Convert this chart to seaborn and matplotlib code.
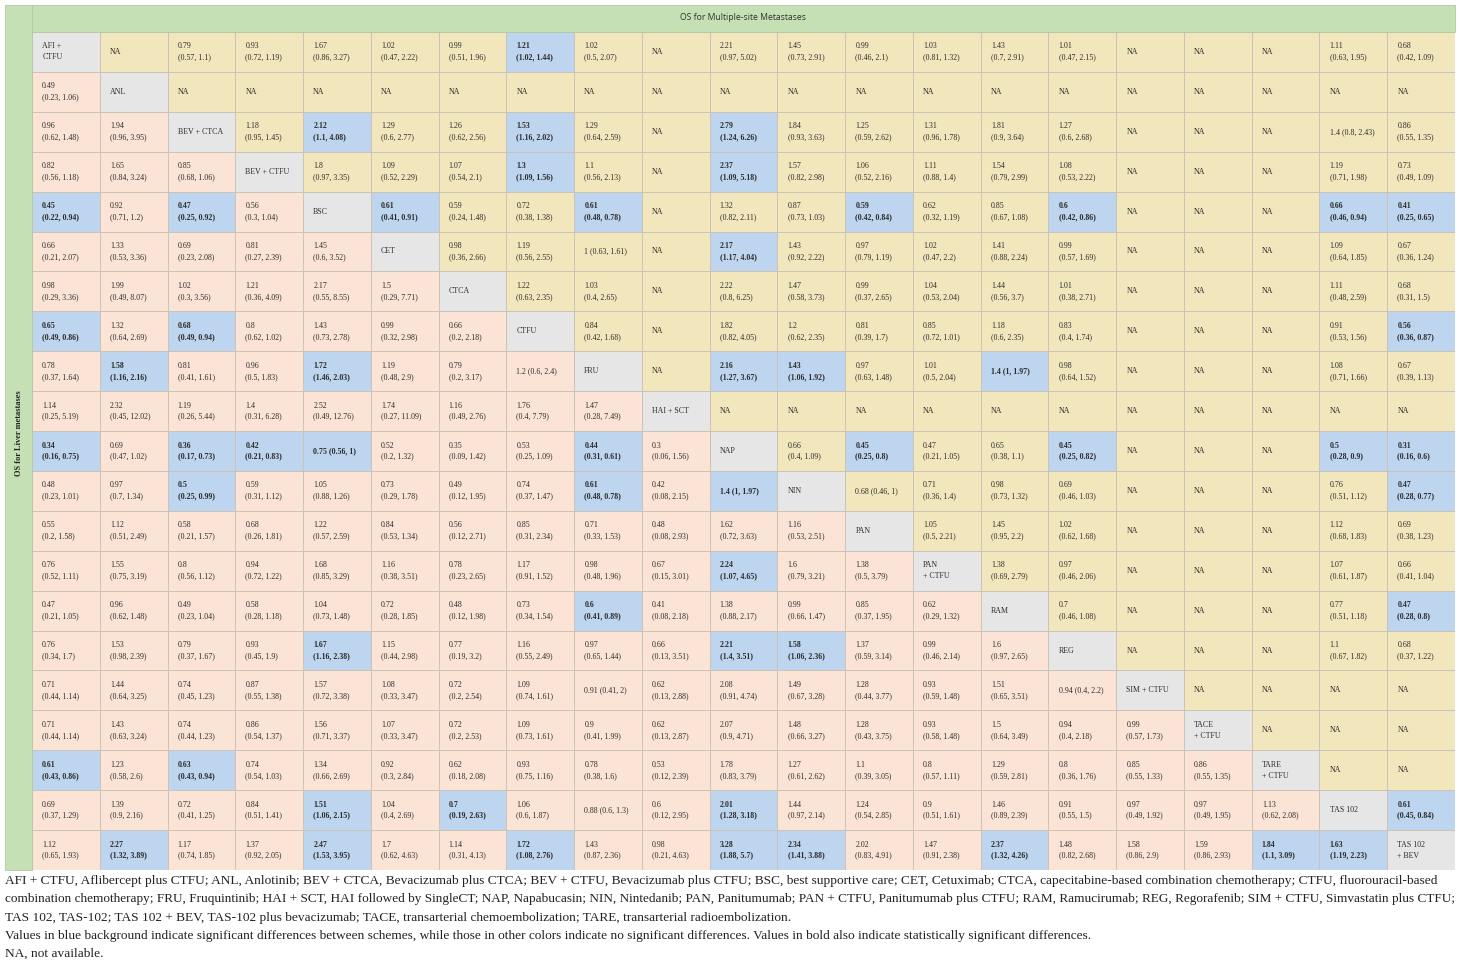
import matplotlib
matplotlib.use("Agg")
import matplotlib.pyplot as plt
from matplotlib.colors import ListedColormap
from matplotlib.patches import Rectangle
import numpy as np
import seaborn as sns

# ------------------------------
# data: treatments (diagonal) and hazard ratios, "*" marks significant cells
# ------------------------------
treatments = ["AFI +\nCTFU", "ANL", "BEV + CTCA", "BEV + CTFU", "BSC", "CET", "CTCA",
              "CTFU", "FRU", "HAI + SCT", "NAP", "NIN", "PAN", "PAN\n+ CTFU", "RAM",
              "REG", "SIM + CTFU", "TACE\n+ CTFU", "TARE\n+ CTFU", "TAS 102", "TAS 102\n+ BEV"]

# lower triangle: OS for liver metastases (row i, columns 0..i-1)
liver_os = [
    [],
    ["0.49 (0.23, 1.06)"],
    ["0.96 (0.62, 1.48)", "1.94 (0.96, 3.95)"],
    ["0.82 (0.56, 1.18)", "1.65 (0.84, 3.24)", "0.85 (0.68, 1.06)"],
    ["*0.45 (0.22, 0.94)", "0.92 (0.71, 1.2)", "*0.47 (0.25, 0.92)", "0.56 (0.3, 1.04)"],
    ["0.66 (0.21, 2.07)", "1.33 (0.53, 3.36)", "0.69 (0.23, 2.08)", "0.81 (0.27, 2.39)",
     "1.45 (0.6, 3.52)"],
    ["0.98 (0.29, 3.36)", "1.99 (0.49, 8.07)", "1.02 (0.3, 3.56)", "1.21 (0.36, 4.09)",
     "2.17 (0.55, 8.55)", "1.5 (0.29, 7.71)"],
    ["*0.65 (0.49, 0.86)", "1.32 (0.64, 2.69)", "*0.68 (0.49, 0.94)", "0.8 (0.62, 1.02)",
     "1.43 (0.73, 2.78)", "0.99 (0.32, 2.98)", "0.66 (0.2, 2.18)"],
    ["0.78 (0.37, 1.64)", "*1.58 (1.16, 2.16)", "0.81 (0.41, 1.61)", "0.96 (0.5, 1.83)",
     "*1.72 (1.46, 2.03)", "1.19 (0.48, 2.9)", "0.79 (0.2, 3.17)", "1.2 (0.6, 2.4)"],
    ["1.14 (0.25, 5.19)", "2.32 (0.45, 12.02)", "1.19 (0.26, 5.44)", "1.4 (0.31, 6.28)",
     "2.52 (0.49, 12.76)", "1.74 (0.27, 11.09)", "1.16 (0.49, 2.76)", "1.76 (0.4, 7.79)",
     "1.47 (0.28, 7.49)"],
    ["*0.34 (0.16, 0.75)", "0.69 (0.47, 1.02)", "*0.36 (0.17, 0.73)", "*0.42 (0.21, 0.83)",
     "*0.75 (0.56, 1)", "0.52 (0.2, 1.32)", "0.35 (0.09, 1.42)", "0.53 (0.25, 1.09)",
     "*0.44 (0.31, 0.61)", "0.3 (0.06, 1.56)"],
    ["0.48 (0.23, 1.01)", "0.97 (0.7, 1.34)", "*0.5 (0.25, 0.99)", "0.59 (0.31, 1.12)",
     "1.05 (0.88, 1.26)", "0.73 (0.29, 1.78)", "0.49 (0.12, 1.95)", "0.74 (0.37, 1.47)",
     "*0.61 (0.48, 0.78)", "0.42 (0.08, 2.15)", "*1.4 (1, 1.97)"],
    ["0.55 (0.2, 1.58)", "1.12 (0.51, 2.49)", "0.58 (0.21, 1.57)", "0.68 (0.26, 1.81)",
     "1.22 (0.57, 2.59)", "0.84 (0.53, 1.34)", "0.56 (0.12, 2.71)", "0.85 (0.31, 2.34)",
     "0.71 (0.33, 1.53)", "0.48 (0.08, 2.93)", "1.62 (0.72, 3.63)", "1.16 (0.53, 2.51)"],
    ["0.76 (0.52, 1.11)", "1.55 (0.75, 3.19)", "0.8 (0.56, 1.12)", "0.94 (0.72, 1.22)",
     "1.68 (0.85, 3.29)", "1.16 (0.38, 3.51)", "0.78 (0.23, 2.65)", "1.17 (0.91, 1.52)",
     "0.98 (0.48, 1.96)", "0.67 (0.15, 3.01)", "*2.24 (1.07, 4.65)", "1.6 (0.79, 3.21)",
     "1.38 (0.5, 3.79)"],
    ["0.47 (0.21, 1.05)", "0.96 (0.62, 1.48)", "0.49 (0.23, 1.04)", "0.58 (0.28, 1.18)",
     "1.04 (0.73, 1.48)", "0.72 (0.28, 1.85)", "0.48 (0.12, 1.98)", "0.73 (0.34, 1.54)",
     "*0.6 (0.41, 0.89)", "0.41 (0.08, 2.18)", "1.38 (0.88, 2.17)", "0.99 (0.66, 1.47)",
     "0.85 (0.37, 1.95)", "0.62 (0.29, 1.32)"],
    ["0.76 (0.34, 1.7)", "1.53 (0.98, 2.39)", "0.79 (0.37, 1.67)", "0.93 (0.45, 1.9)",
     "*1.67 (1.16, 2.38)", "1.15 (0.44, 2.98)", "0.77 (0.19, 3.2)", "1.16 (0.55, 2.49)",
     "0.97 (0.65, 1.44)", "0.66 (0.13, 3.51)", "*2.21 (1.4, 3.51)", "*1.58 (1.06, 2.36)",
     "1.37 (0.59, 3.14)", "0.99 (0.46, 2.14)", "1.6 (0.97, 2.65)"],
    ["0.71 (0.44, 1.14)", "1.44 (0.64, 3.25)", "0.74 (0.45, 1.23)", "0.87 (0.55, 1.38)",
     "1.57 (0.72, 3.38)", "1.08 (0.33, 3.47)", "0.72 (0.2, 2.54)", "1.09 (0.74, 1.61)",
     "0.91 (0.41, 2)", "0.62 (0.13, 2.88)", "2.08 (0.91, 4.74)", "1.49 (0.67, 3.28)",
     "1.28 (0.44, 3.77)", "0.93 (0.59, 1.48)", "1.51 (0.65, 3.51)", "0.94 (0.4, 2.2)"],
    ["0.71 (0.44, 1.14)", "1.43 (0.63, 3.24)", "0.74 (0.44, 1.23)", "0.86 (0.54, 1.37)",
     "1.56 (0.71, 3.37)", "1.07 (0.33, 3.47)", "0.72 (0.2, 2.53)", "1.09 (0.73, 1.61)",
     "0.9 (0.41, 1.99)", "0.62 (0.13, 2.87)", "2.07 (0.9, 4.71)", "1.48 (0.66, 3.27)",
     "1.28 (0.43, 3.75)", "0.93 (0.58, 1.48)", "1.5 (0.64, 3.49)", "0.94 (0.4, 2.18)",
     "0.99 (0.57, 1.73)"],
    ["*0.61 (0.43, 0.86)", "1.23 (0.58, 2.6)", "*0.63 (0.43, 0.94)", "0.74 (0.54, 1.03)",
     "1.34 (0.66, 2.69)", "0.92 (0.3, 2.84)", "0.62 (0.18, 2.08)", "0.93 (0.75, 1.16)",
     "0.78 (0.38, 1.6)", "0.53 (0.12, 2.39)", "1.78 (0.83, 3.79)", "1.27 (0.61, 2.62)",
     "1.1 (0.39, 3.05)", "0.8 (0.57, 1.11)", "1.29 (0.59, 2.81)", "0.8 (0.36, 1.76)",
     "0.85 (0.55, 1.33)", "0.86 (0.55, 1.35)"],
    ["0.69 (0.37, 1.29)", "1.39 (0.9, 2.16)", "0.72 (0.41, 1.25)", "0.84 (0.51, 1.41)",
     "*1.51 (1.06, 2.15)", "1.04 (0.4, 2.69)", "*0.7 (0.19, 2.63)", "1.06 (0.6, 1.87)",
     "0.88 (0.6, 1.3)", "0.6 (0.12, 2.95)", "*2.01 (1.28, 3.18)", "1.44 (0.97, 2.14)",
     "1.24 (0.54, 2.85)", "0.9 (0.51, 1.61)", "1.46 (0.89, 2.39)", "0.91 (0.55, 1.5)",
     "0.97 (0.49, 1.92)", "0.97 (0.49, 1.95)", "1.13 (0.62, 2.08)"],
    ["1.12 (0.65, 1.93)", "*2.27 (1.32, 3.89)", "1.17 (0.74, 1.85)", "1.37 (0.92, 2.05)",
     "*2.47 (1.53, 3.95)", "1.7 (0.62, 4.63)", "1.14 (0.31, 4.13)", "*1.72 (1.08, 2.76)",
     "1.43 (0.87, 2.36)", "0.98 (0.21, 4.63)", "*3.28 (1.88, 5.7)", "*2.34 (1.41, 3.88)",
     "2.02 (0.83, 4.91)", "1.47 (0.91, 2.38)", "*2.37 (1.32, 4.26)", "1.48 (0.82, 2.68)",
     "1.58 (0.86, 2.9)", "1.59 (0.86, 2.93)", "*1.84 (1.1, 3.09)", "*1.63 (1.19, 2.23)"],
]

# upper triangle: OS for multiple-site metastases (row i, columns i+1..20)
multisite_os = [
    ["NA", "0.79 (0.57, 1.1)", "0.93 (0.72, 1.19)", "1.67 (0.86, 3.27)", "1.02 (0.47, 2.22)",
     "0.99 (0.51, 1.96)", "*1.21 (1.02, 1.44)", "1.02 (0.5, 2.07)", "NA", "2.21 (0.97, 5.02)",
     "1.45 (0.73, 2.91)", "0.99 (0.46, 2.1)", "1.03 (0.81, 1.32)", "1.43 (0.7, 2.91)",
     "1.01 (0.47, 2.15)", "NA", "NA", "NA", "1.11 (0.63, 1.95)", "0.68 (0.42, 1.09)"],
    ["NA"] * 19,
    ["1.18 (0.95, 1.45)", "*2.12 (1.1, 4.08)", "1.29 (0.6, 2.77)", "1.26 (0.62, 2.56)",
     "*1.53 (1.16, 2.02)", "1.29 (0.64, 2.59)", "NA", "*2.79 (1.24, 6.26)", "1.84 (0.93, 3.63)",
     "1.25 (0.59, 2.62)", "1.31 (0.96, 1.78)", "1.81 (0.9, 3.64)", "1.27 (0.6, 2.68)",
     "NA", "NA", "NA", "1.4 (0.8, 2.43)", "0.86 (0.55, 1.35)"],
    ["1.8 (0.97, 3.35)", "1.09 (0.52, 2.29)", "1.07 (0.54, 2.1)", "*1.3 (1.09, 1.56)",
     "1.1 (0.56, 2.13)", "NA", "*2.37 (1.09, 5.18)", "1.57 (0.82, 2.98)", "1.06 (0.52, 2.16)",
     "1.11 (0.88, 1.4)", "1.54 (0.79, 2.99)", "1.08 (0.53, 2.22)", "NA", "NA", "NA",
     "1.19 (0.71, 1.98)", "0.73 (0.49, 1.09)"],
    ["*0.61 (0.41, 0.91)", "0.59 (0.24, 1.48)", "0.72 (0.38, 1.38)", "*0.61 (0.48, 0.78)",
     "NA", "1.32 (0.82, 2.11)", "0.87 (0.73, 1.03)", "*0.59 (0.42, 0.84)", "0.62 (0.32, 1.19)",
     "0.85 (0.67, 1.08)", "*0.6 (0.42, 0.86)", "NA", "NA", "NA", "*0.66 (0.46, 0.94)",
     "*0.41 (0.25, 0.65)"],
    ["0.98 (0.36, 2.66)", "1.19 (0.56, 2.55)", "1 (0.63, 1.61)", "NA", "*2.17 (1.17, 4.04)",
     "1.43 (0.92, 2.22)", "0.97 (0.79, 1.19)", "1.02 (0.47, 2.2)", "1.41 (0.88, 2.24)",
     "0.99 (0.57, 1.69)", "NA", "NA", "NA", "1.09 (0.64, 1.85)", "0.67 (0.36, 1.24)"],
    ["1.22 (0.63, 2.35)", "1.03 (0.4, 2.65)", "NA", "2.22 (0.8, 6.25)", "1.47 (0.58, 3.73)",
     "0.99 (0.37, 2.65)", "1.04 (0.53, 2.04)", "1.44 (0.56, 3.7)", "1.01 (0.38, 2.71)",
     "NA", "NA", "NA", "1.11 (0.48, 2.59)", "0.68 (0.31, 1.5)"],
    ["0.84 (0.42, 1.68)", "NA", "1.82 (0.82, 4.05)", "1.2 (0.62, 2.35)", "0.81 (0.39, 1.7)",
     "0.85 (0.72, 1.01)", "1.18 (0.6, 2.35)", "0.83 (0.4, 1.74)", "NA", "NA", "NA",
     "0.91 (0.53, 1.56)", "*0.56 (0.36, 0.87)"],
    ["NA", "*2.16 (1.27, 3.67)", "*1.43 (1.06, 1.92)", "0.97 (0.63, 1.48)", "1.01 (0.5, 2.04)",
     "*1.4 (1, 1.97)", "0.98 (0.64, 1.52)", "NA", "NA", "NA", "1.08 (0.71, 1.66)",
     "0.67 (0.39, 1.13)"],
    ["NA"] * 11,
    ["0.66 (0.4, 1.09)", "*0.45 (0.25, 0.8)", "0.47 (0.21, 1.05)", "0.65 (0.38, 1.1)",
     "*0.45 (0.25, 0.82)", "NA", "NA", "NA", "*0.5 (0.28, 0.9)", "*0.31 (0.16, 0.6)"],
    ["0.68 (0.46, 1)", "0.71 (0.36, 1.4)", "0.98 (0.73, 1.32)", "0.69 (0.46, 1.03)",
     "NA", "NA", "NA", "0.76 (0.51, 1.12)", "*0.47 (0.28, 0.77)"],
    ["1.05 (0.5, 2.21)", "1.45 (0.95, 2.2)", "1.02 (0.62, 1.68)", "NA", "NA", "NA",
     "1.12 (0.68, 1.83)", "0.69 (0.38, 1.23)"],
    ["1.38 (0.69, 2.79)", "0.97 (0.46, 2.06)", "NA", "NA", "NA", "1.07 (0.61, 1.87)",
     "0.66 (0.41, 1.04)"],
    ["0.7 (0.46, 1.08)", "NA", "NA", "NA", "0.77 (0.51, 1.18)", "*0.47 (0.28, 0.8)"],
    ["NA", "NA", "NA", "1.1 (0.67, 1.82)", "0.68 (0.37, 1.22)"],
    ["NA", "NA", "NA", "NA"],
    ["NA", "NA", "NA"],
    ["NA", "NA"],
    ["*0.61 (0.45, 0.84)"],
    [],
]

footer_lines = [
    "AFI + CTFU, Aflibercept plus CTFU; ANL, Anlotinib; BEV + CTCA, Bevacizumab plus CTCA; "
    "BEV + CTFU, Bevacizumab plus CTFU; BSC, best supportive care; CET, Cetuximab; CTCA, "
    "capecitabine-based combination chemotherapy; CTFU, fluorouracil-based",
    "combination chemotherapy; FRU, Fruquintinib; HAI + SCT, HAI followed by SingleCT; NAP, "
    "Napabucasin; NIN, Nintedanib; PAN, Panitumumab; PAN + CTFU, Panitumumab plus CTFU; RAM, "
    "Ramucirumab; REG, Regorafenib; SIM + CTFU, Simvastatin plus CTFU;",
    "TAS 102, TAS-102; TAS 102 + BEV, TAS-102 plus bevacizumab; TACE, transarterial "
    "chemoembolization; TARE, transarterial radioembolization.",
    "Values in blue background indicate significant differences between schemes, while those "
    "in other colors indicate no significant differences. Values in bold also indicate "
    "statistically significant differences.",
    "NA, not available.",
]

# ------------------------------
# build matrices
# ------------------------------
n = len(treatments)
labels = [["" for _ in range(n)] for _ in range(n)]
cat = np.zeros((n, n))  # 0 lower, 1 upper, 2 significant, 3 diagonal
for i in range(n):
    for j in range(n):
        if i == j:
            labels[i][j] = treatments[i]
            cat[i, j] = 3
            continue
        s = liver_os[i][j] if j < i else multisite_os[i][j - i - 1]
        cat[i, j] = 0 if j < i else 1
        if s.startswith("*"):
            s = s[1:]
            cat[i, j] = 2
        labels[i][j] = s

W, H = 1460, 965
fig = plt.figure(figsize=(W / 100, H / 100), dpi=100)
fig.patch.set_facecolor("white")

def px(x0, y0, x1, y1):
    return [x0 / W, 1 - y1 / H, (x1 - x0) / W, (y1 - y0) / H]

green = "#c5e0b4"
fig.patches.append(Rectangle((5 / W, 1 - 870 / H), 27 / W, 865 / H, transform=fig.transFigure,
                             facecolor=green, edgecolor="#b3c9a4", lw=0.6))
fig.patches.append(Rectangle((32 / W, 1 - 32 / H), 1423 / W, 27 / H, transform=fig.transFigure,
                             facecolor=green, edgecolor="#b3c9a4", lw=0.6))
fig.text(743 / W, 1 - 18 / H, "OS for Multiple-site Metastases", ha="center", va="center",
         fontsize=6.2, family="Open Sans", color="#333333")
fig.text(19 / W, 1 - 433 / H, "OS for Liver metastases", rotation=90, ha="center", va="center",
         fontsize=6.0, family="Liberation Serif", fontweight="bold", color="#222222")

ax = fig.add_axes(px(32, 32, 1455, 870))
cmap = ListedColormap(["#fbe4d5", "#f2e6bd", "#bdd5ee", "#e6e6e6"])
sns.heatmap(cat, cmap=cmap, vmin=-0.5, vmax=3.5, cbar=False, linewidths=0.7,
            linecolor="#cbc3b5", xticklabels=False, yticklabels=False, ax=ax)
ax.tick_params(left=False, bottom=False)

for i in range(n):
    for j in range(n):
        s = labels[i][j]
        bold = cat[i, j] == 2
        limit = 14 if bold else 15
        if i != j and "(" in s and len(s) > limit:
            k = s.index("(")
            s = s[:k].strip() + "\n" + s[k:]
        ax.text(j + 0.15, i + 0.5, s, ha="left", va="center", fontsize=5.7,
                family="Liberation Serif", fontweight="bold" if bold else "normal",
                color="#2b2b2b", linespacing=1.5)

# footer notes; shrink any line that would run past the table's right edge
renderer = fig.canvas.get_renderer()
for k, line in enumerate(footer_lines):
    t = fig.text(5 / W, 1 - (881 + 18.3 * k) / H, line, ha="left", va="center", fontsize=9.6,
                 family="Liberation Serif", color="#222222")
    width = t.get_window_extent(renderer).width
    if width > 1448:
        t.set_fontsize(9.6 * 1448 / width)

fig.savefig("out.png", dpi=100)
